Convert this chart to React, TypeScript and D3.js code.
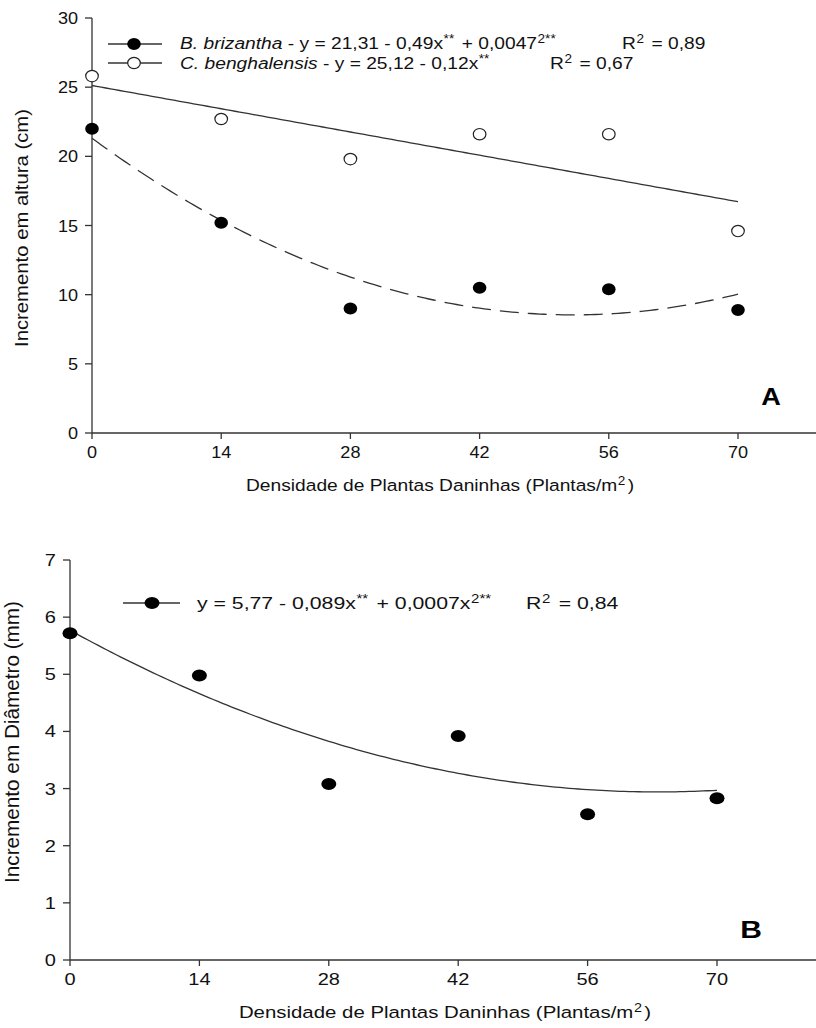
import React from "react";
import * as d3 from "d3";

const densities = [0, 14, 28, 42, 56, 70];
const xTicks = [0, 14, 28, 42, 56, 70];
const brizantha = [22.0, 15.2, 9.0, 10.5, 10.4, 8.9];
const benghalensis = [25.8, 22.7, 19.8, 21.6, 21.6, 14.6];
const diameter = [5.72, 4.98, 3.08, 3.92, 2.55, 2.83];
const topYTicks = [0, 5, 10, 15, 20, 25, 30];
const botYTicks = [0, 1, 2, 3, 4, 5, 6, 7];
const brizCoef = [21.31, -0.49, 0.0047];
const bengCoef = [25.12, -0.12, 0];
const diamCoef = [5.77, -0.089, 0.0007];

const FONT = "'Liberation Sans', Arial, sans-serif";
const AX = "#333";

const quad = (c: number[]) => (x: number) => c[0] + c[1] * x + c[2] * x * x;

function SText({ x, y, sx, children, ...rest }: any) {
  return (
    <g transform={`translate(${x},${y}) scale(${sx},1)`}>
      <text x={0} y={0} fontFamily={FONT} fill="#111" {...rest}>{children}</text>
    </g>
  );
}

function Axes({ x, y, yTicks, x0, xEnd, tickFont, sx }: any) {
  const yb = y(0);
  return (
    <g>
      <g stroke={AX} strokeWidth={1.3} fill="none">
        <line x1={x0} x2={xEnd} y1={yb} y2={yb} />
        <line x1={x0} x2={x0} y1={y(yTicks[yTicks.length - 1])} y2={yb} />
        {yTicks.map((t: number) => (
          <line key={"yt" + t} x1={x0 - 7} x2={x0} y1={y(t)} y2={y(t)} />
        ))}
        {xTicks.map((t: number) => (
          <line key={"xt" + t} x1={x(t)} x2={x(t)} y1={yb} y2={yb + 6} />
        ))}
      </g>
      {yTicks.map((t: number) => (
        <SText key={"yl" + t} x={x0 - 14} y={y(t) + 6} sx={sx} textAnchor="end" fontSize={tickFont}>{t}</SText>
      ))}
      {xTicks.map((t: number) => (
        <SText key={"xl" + t} x={x(t)} y={yb + 25} sx={sx} textAnchor="middle" fontSize={tickFont}>{t}</SText>
      ))}
    </g>
  );
}

export default function App() {
  // Top chart
  const xA = d3.scaleLinear().domain([0, 70]).range([92, 738]);
  const yA = d3.scaleLinear().domain([0, 30]).range([433, 18]);
  // Bottom chart
  const xB = d3.scaleLinear().domain([0, 70]).range([70, 717]);
  const yB = d3.scaleLinear().domain([0, 7]).range([960, 560]);

  const grid = d3.range(0, 70.001, 0.5);
  const brizLine = d3.line<number>().x((d) => xA(d)).y((d) => yA(quad(brizCoef)(d)))(grid);
  const bengLine = d3.line<number>().x((d) => xA(d)).y((d) => yA(quad(bengCoef)(d)))(grid);
  const diamLine = d3.line<number>().x((d) => xB(d)).y((d) => yB(quad(diamCoef)(d)))(grid);

  const sup = (s: string, size = 12) => (
    <tspan dy={-6} dx={0.5} fontSize={size}>{s}</tspan>
  );
  const down = (s: string) => <tspan dy={6} dx={2}>{s}</tspan>;

  const SA = 1.13;
  const SB = 1.25;

  return (
    <svg width={816} height={1028} style={{ display: "block", position: "absolute", left: 0, top: 0 }}>
      <rect width={816} height={1028} fill="#fff" />
      {/* ---------- Chart A ---------- */}
      <Axes x={xA} y={yA} yTicks={topYTicks} x0={92} xEnd={816} tickFont={16} sx={SA} />
      <path d={bengLine || ""} fill="none" stroke="#333" strokeWidth={1.3} />
      <path d={brizLine || ""} fill="none" stroke="#333" strokeWidth={1.3} strokeDasharray="19,9" />
      {densities.map((d, i) => (
        <ellipse key={"bg" + i} cx={xA(d)} cy={yA(benghalensis[i])} rx={6.3} ry={5.7} fill="#fff" stroke="#222" strokeWidth={1.2} />
      ))}
      {densities.map((d, i) => (
        <ellipse key={"bz" + i} cx={xA(d)} cy={yA(brizantha[i])} rx={6.8} ry={6} fill="#000" />
      ))}
      {/* legend A */}
      <line x1={108} x2={162} y1={44} y2={44} stroke="#333" strokeWidth={1.3} />
      <ellipse cx={134} cy={44} rx={6.8} ry={6} fill="#000" />
      <line x1={108} x2={162} y1={63} y2={63} stroke="#333" strokeWidth={1.3} />
      <ellipse cx={134} cy={63} rx={6.3} ry={5.7} fill="#fff" stroke="#222" strokeWidth={1.2} />
      <SText x={180} y={49} sx={SA} fontSize={17}>
        <tspan fontStyle="italic">B. brizantha</tspan>
        <tspan> - y = 21,31 - 0,49x</tspan>
        {sup("**")}
        {down(" + 0,0047")}
        {sup("2**")}
      </SText>
      <SText x={622} y={49} sx={SA} fontSize={17}>R{sup("2")}{down(" = 0,89")}</SText>
      <SText x={180} y={69} sx={SA} fontSize={17}>
        <tspan fontStyle="italic">C. benghalensis</tspan>
        <tspan> - y = 25,12 - 0,12x</tspan>
        {sup("**")}
      </SText>
      <SText x={550} y={69} sx={SA} fontSize={17}>R{sup("2")}{down(" = 0,67")}</SText>
      <SText x={771} y={405} sx={SA} textAnchor="middle" fontWeight="bold" fontSize={24} fill="#000">A</SText>
      <SText x={440} y={491} sx={SA} textAnchor="middle" fontSize={17}>
        Densidade de Plantas Daninhas (Plantas/m{sup("2")}{down(")")}
      </SText>
      <text transform="translate(28,228) rotate(-90)" textAnchor="middle" fontFamily={FONT} fontSize={19} fill="#111" textLength={238} lengthAdjust="spacingAndGlyphs">
        Incremento em altura (cm)
      </text>

      {/* ---------- Chart B ---------- */}
      <Axes x={xB} y={yB} yTicks={botYTicks} x0={70} xEnd={816} tickFont={16} sx={SB} />
      <path d={diamLine || ""} fill="none" stroke="#333" strokeWidth={1.3} />
      {densities.map((d, i) => (
        <ellipse key={"dm" + i} cx={xB(d)} cy={yB(diameter[i])} rx={7.5} ry={6} fill="#000" />
      ))}
      <line x1={123} x2={180} y1={603} y2={603} stroke="#333" strokeWidth={1.3} />
      <ellipse cx={152} cy={603} rx={7.5} ry={6} fill="#000" />
      <SText x={197} y={609} sx={SB} fontSize={17}>
        y = 5,77 - 0,089x{sup("**")}{down(" + 0,0007x")}{sup("2**")}
      </SText>
      <SText x={526} y={609} sx={SB} fontSize={17}>R{sup("2")}{down(" = 0,84")}</SText>
      <SText x={751} y={938} sx={SB} textAnchor="middle" fontWeight="bold" fontSize={24} fill="#000">B</SText>
      <SText x={445} y={1018} sx={1.2} textAnchor="middle" fontSize={17}>
        Densidade de Plantas Daninhas (Plantas/m{sup("2")}{down(")")}
      </SText>
      <text transform="translate(19,742) rotate(-90)" textAnchor="middle" fontFamily={FONT} fontSize={20} fill="#111" textLength={282} lengthAdjust="spacingAndGlyphs">
        Incremento em Diâmetro (mm)
      </text>
    </svg>
  );
}
